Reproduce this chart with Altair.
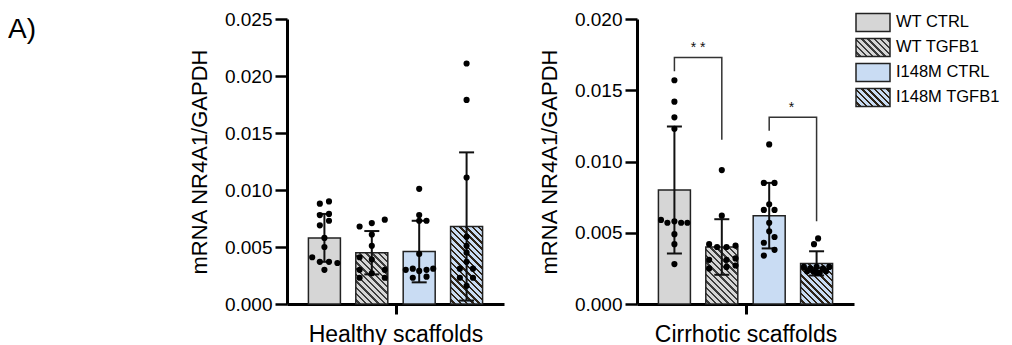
import altair as alt
import pandas as pd

# ---------------- data ----------------
groups = ["WT CTRL", "WT TGFB1", "I148M CTRL", "I148M TGFB1"]
group_pos = [1, 2, 3, 4]
group_fill = ["#d6d6d6", "#d6d6d6", "#c9dcf3", "#c9dcf3"]
group_hatch = [None, "#3c3c3c", None, "#2e2418"]

panel_titles = ["Healthy scaffolds", "Cirrhotic scaffolds"]
y_title = "mRNA NR4A1/GAPDH"
panel_label = ["A)"]
healthy_ticks = [0.0, 0.005, 0.010, 0.015, 0.020, 0.025]
cirrhotic_ticks = [0.0, 0.005, 0.010, 0.015, 0.020]

healthy_mean = [0.0058, 0.0045, 0.0046, 0.0068]
healthy_sd = [0.0021, 0.0019, 0.0027, 0.0065]
cirrhotic_mean = [0.0080, 0.0040, 0.0062, 0.00285]
cirrhotic_sd = [0.00445, 0.00195, 0.0023, 0.00085]

# individual points (values) and their horizontal jitter (fraction of half bar width)
h_wt_ctrl = [0.0088, 0.0090, 0.0078, 0.0079, 0.0069, 0.0073, 0.0058, 0.0050, 0.0041, 0.0037, 0.0037, 0.0036, 0.0030]
h_wt_ctrl_jit = [-0.3, 0.3, -0.3, 0.3, -0.3, 0.3, 0, 0, -0.8, -0.3, 0.3, 0.85, 0]
h_wt_tgf = [0.0068, 0.0071, 0.0074, 0.0061, 0.0051, 0.0041, 0.0039, 0.0030, 0.0030, 0.0027, 0.0023, 0.0023]
h_wt_tgf_jit = [-0.8, 0, 0.85, 0, 0, -0.8, 0, -0.8, 0.85, 0, -0.8, 0.85]
h_mut_ctrl = [0.0101, 0.0078, 0.0073, 0.0073, 0.0044, 0.0030, 0.0031, 0.0030, 0.0031, 0.0029, 0.0023, 0.0024]
h_mut_ctrl_jit = [0, 0, 0, 0.48, 0, -0.88, -0.42, 0.48, 0.92, 0, -0.42, 0.48]
h_mut_tgf = [0.0211, 0.0179, 0.0111, 0.0059, 0.0051, 0.0045, 0.0037, 0.0031, 0.0031, 0.0023, 0.0023, 0.0016]
h_mut_tgf_jit = [0, 0, 0, 0, 0, 0, 0, -0.44, 0.42, -0.44, 0.42, 0]

c_wt_ctrl = [0.0157, 0.0142, 0.0131, 0.0123, 0.0059, 0.0057, 0.0058, 0.0057, 0.0057, 0.0049, 0.0042, 0.0028]
c_wt_ctrl_jit = [0, 0, 0, 0, -0.88, -0.46, 0, 0.44, 0.85, 0, 0, 0]
c_wt_tgf = [0.0094, 0.0062, 0.0042, 0.0040, 0.0040, 0.0041, 0.0031, 0.0031, 0.0032, 0.0025, 0.0026, 0.0027]
c_wt_tgf_jit = [0, 0, -0.83, -0.31, 0.31, 0.9, -0.83, 0.31, 0.9, -0.83, 0.31, 0.9]
c_mut_ctrl = [0.0112, 0.0085, 0.0085, 0.0070, 0.0066, 0.0066, 0.0057, 0.0051, 0.0047, 0.0043, 0.0038, 0.0034]
c_mut_ctrl_jit = [0, -0.35, 0.35, 0, -0.35, 0.35, 0, 0, 0.35, -0.35, 0.35, -0.35]
c_mut_tgf = [0.0046, 0.0042, 0.0026, 0.0025, 0.0026, 0.0025, 0.0026, 0.0023, 0.0023, 0.0022, 0.0023, 0.0022]
c_mut_tgf_jit = [0.1, -0.17, -0.83, -0.42, 0, 0.42, 0.83, -0.62, -0.21, 0.21, 0.62, 0]

# significance brackets (cirrhotic panel)
bracket_id = [1, 1, 1, 1, 2, 2, 2, 2]
bracket_order = [0, 1, 2, 3, 0, 1, 2, 3]
bracket_x = [1, 1, 2, 2, 3, 3, 4, 4]
bracket_y = [0.01634, 0.01729, 0.01729, 0.01152, 0.01215, 0.0131, 0.0131, 0.0058]
star_x = [1.5, 3.47]
star_y = [0.0182, 0.0140]
star_text = ["* *", "*"]

# ---------------- styling ----------------
W, H = 217, 285
BAR_W = 32
HALF_BAR = 0.322  # half bar width in x data units
EDGE = "#222222"
FONT = "Liberation Sans"
X_DOMAIN = [0.316, 4.684]


def hatch_gradient(w, h, bg, fg, period=6.3, lw=2.4):
    """45-degree '\\' hatching done with hard-stop linear gradient (bbox units)."""
    L = w + h
    s = L / (w * w + h * h)
    stops = [alt.GradientStop(color=bg, offset=0)]
    c = period / 2.0
    while c < L:
        a = round(c / L, 5)
        b = round(min((c + lw) / L, 1.0), 5)
        stops += [
            alt.GradientStop(color=bg, offset=a),
            alt.GradientStop(color=fg, offset=a),
            alt.GradientStop(color=fg, offset=b),
            alt.GradientStop(color=bg, offset=b),
        ]
        c += period
    stops.append(alt.GradientStop(color=bg, offset=1))
    return alt.LinearGradient(gradient="linear", stops=stops,
                              x1=0, y1=1, x2=round(s * w, 5), y2=round(1 - s * h, 5))


def make_panel(means, sds, pts, jits, ymax, ticks, title):
    bars_df = pd.DataFrame({"group": groups, "pos": group_pos, "mean": means, "sd": sds})
    rows = []
    for g, p, vals, js in zip(groups, group_pos, pts, jits):
        for v, j in zip(vals, js):
            rows.append({"group": g, "pos": p, "value": v, "jit": j})
    dots_df = pd.DataFrame(rows)

    yaxis = alt.Axis(values=ticks, format=".3f", title=y_title, grid=False,
                     tickSize=12, tickWidth=2.5, tickColor="black",
                     domainWidth=3, domainColor="black", labelPadding=3,
                     labelFontSize=19, labelColor="black", titleFontSize=22,
                     titleFontWeight="normal", titleColor="black", titlePadding=13)
    xaxis = alt.Axis(values=[2.5], labels=False, title=title, grid=False,
                     tickSize=10, tickWidth=3, tickColor="black",
                     domainWidth=3, domainColor="black", titleFontSize=23,
                     titleFontWeight="normal", titleColor="black", titlePadding=8)
    yscale = alt.Scale(domain=[0, ymax], nice=False, zero=True)
    xscale = alt.Scale(domain=X_DOMAIN, nice=False, zero=False)

    def X(f):
        return alt.X(f"{f}:Q", scale=xscale, axis=xaxis)

    def Y(f):
        return alt.Y(f"{f}:Q", scale=yscale, axis=yaxis)

    layers = []
    for i, g in enumerate(groups):
        if group_hatch[i] is None:
            fill = group_fill[i]
        else:
            fill = hatch_gradient(BAR_W, means[i] / ymax * H, group_fill[i], group_hatch[i])
        layers.append(
            alt.Chart(bars_df).transform_filter(alt.datum.group == g)
            .mark_bar(size=BAR_W, fill=fill, stroke=EDGE, strokeWidth=1.5)
            .encode(x=X("pos"), y=Y("mean"))
        )
    err = alt.Chart(bars_df).transform_calculate(
        lo="datum.mean - datum.sd", hi="datum.mean + datum.sd")
    layers.append(err.mark_rule(color="#111", strokeWidth=2)
                  .encode(x=X("pos"), y=Y("lo"), y2="hi:Q"))
    layers.append(err.mark_tick(orient="horizontal", size=15, thickness=2, color="#111", opacity=1)
                  .encode(x=X("pos"), y=Y("lo")))
    layers.append(err.mark_tick(orient="horizontal", size=15, thickness=2, color="#111", opacity=1)
                  .encode(x=X("pos"), y=Y("hi")))
    layers.append(
        alt.Chart(dots_df).transform_calculate(px=f"datum.pos + datum.jit * {HALF_BAR}")
        .mark_circle(size=38, color="black", opacity=1)
        .encode(x=X("px"), y=Y("value"))
    )
    return layers, X, Y


# ---------------- left panel ----------------
left_layers, _, _ = make_panel(
    healthy_mean, healthy_sd,
    [h_wt_ctrl, h_wt_tgf, h_mut_ctrl, h_mut_tgf],
    [h_wt_ctrl_jit, h_wt_tgf_jit, h_mut_ctrl_jit, h_mut_tgf_jit],
    0.025, healthy_ticks, panel_titles[0])

label_layer = alt.Chart(pd.DataFrame({"label": panel_label})).mark_text(
    fontSize=28, align="left", baseline="alphabetic", color="black"
).encode(x=alt.value(-279), y=alt.value(19), text="label:N")

left = alt.layer(*left_layers, label_layer).properties(width=W, height=H)

# ---------------- right panel ----------------
right_layers, RX, RY = make_panel(
    cirrhotic_mean, cirrhotic_sd,
    [c_wt_ctrl, c_wt_tgf, c_mut_ctrl, c_mut_tgf],
    [c_wt_ctrl_jit, c_wt_tgf_jit, c_mut_ctrl_jit, c_mut_tgf_jit],
    0.020, cirrhotic_ticks, panel_titles[1])

br_df = pd.DataFrame({"id": bracket_id, "ord": bracket_order, "bx": bracket_x, "by": bracket_y})
right_layers.append(
    alt.Chart(br_df).mark_line(color="#333", strokeWidth=1.5)
    .encode(x=RX("bx"), y=RY("by"), detail="id:N", order="ord:Q")
)
st_df = pd.DataFrame({"sx": star_x, "sy": star_y, "txt": star_text})
right_layers.append(
    alt.Chart(st_df).mark_text(fontSize=14, baseline="middle", dy=3, color="#111")
    .encode(x=RX("sx"), y=RY("sy"), text="txt:N")
)
main_right = alt.layer(*right_layers)

# manual legend with hatched swatches
leg_df = pd.DataFrame({"group": groups})
leg_y = alt.Y("group:N", scale=alt.Scale(domain=groups, range=[-5.6, 87.4],
                                         paddingInner=0.28, paddingOuter=0), axis=None)
leg_layers = []
for i, g in enumerate(groups):
    if group_hatch[i] is None:
        fill = group_fill[i]
    else:
        fill = hatch_gradient(34, 18, group_fill[i], group_hatch[i])
    leg_layers.append(
        alt.Chart(leg_df).transform_filter(alt.datum.group == g)
        .mark_rect(fill=fill, stroke=EDGE, strokeWidth=1.5)
        .encode(x=alt.value(219), x2=alt.value(253), y=leg_y)
    )
leg_layers.append(
    alt.Chart(leg_df).mark_text(align="left", baseline="middle", fontSize=16.5, color="black")
    .encode(x=alt.value(259), y=leg_y, text="group:N")
)
legend = alt.layer(*leg_layers)

right = alt.layer(main_right, legend).resolve_scale(y="independent").properties(width=W, height=H)

chart = alt.hconcat(left, right, spacing=133, bounds="flush").properties(
    padding={"left": 0, "top": 2, "right": 0, "bottom": 0}
).configure(font=FONT).configure_view(stroke=None)

chart.save("out.html", embed_options={"renderer": "svg", "actions": False})
